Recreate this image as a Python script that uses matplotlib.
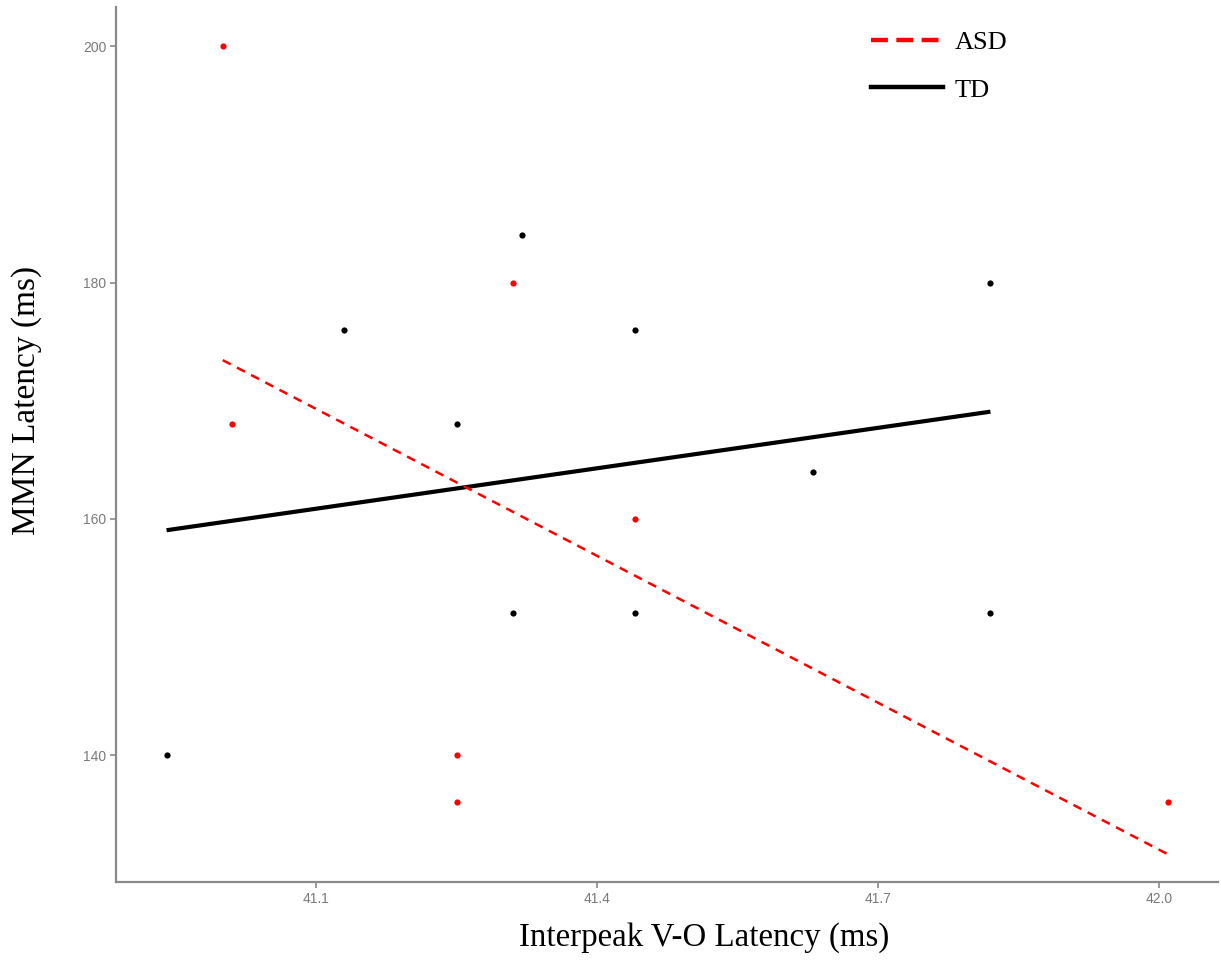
import numpy as np
import matplotlib
matplotlib.use("Agg")
import matplotlib.pyplot as plt
from matplotlib.lines import Line2D

# interpeak V-O latency (ms) and MMN latency (ms)
asd_x = [41.00, 41.01, 41.25, 41.25, 41.31, 41.44, 42.01]
asd_y = [200, 168, 140, 136, 180, 160, 136]

td_x = [40.94, 41.13, 41.25, 41.32, 41.31, 41.44, 41.44, 41.63, 41.82, 41.82]
td_y = [140, 176, 168, 184, 152, 176, 152, 164, 180, 152]

x_ticks = [41.1, 41.4, 41.7, 42.0]
y_ticks = [140, 160, 180, 200]

AXIS_GREY = "#8a8a8a"
SERIF = ["Liberation Serif", "DejaVu Serif"]


def fit_line(x, y):
    x = np.asarray(x, dtype=float)
    y = np.asarray(y, dtype=float)
    slope, icpt = np.polyfit(x, y, 1)
    xs = np.array([x.min(), x.max()])
    return xs, icpt + slope * xs


fig = plt.figure(figsize=(12.21, 9.61), dpi=100)
ax = fig.add_axes([0.095, 0.082, 0.9025, 0.911])

ax.scatter(td_x, td_y, s=20, color="black", zorder=3, linewidths=0)
ax.scatter(asd_x, asd_y, s=20, color="#ff0000", zorder=3, linewidths=0)

xs, ys = fit_line(td_x, td_y)
ax.plot(xs, ys, color="black", lw=3.0, solid_capstyle="butt", zorder=2)
xs, ys = fit_line(asd_x, asd_y)
ax.plot(xs, ys, color="#ff0000", lw=1.8, dashes=(3.6, 2.8), zorder=2)

ax.set_xlim(40.886, 42.063)
ax.set_ylim(129.24, 203.36)
ax.set_xticks(x_ticks)
ax.set_xticklabels([f"{v:.1f}" for v in x_ticks])
ax.set_yticks(y_ticks)

for side in ("top", "right"):
    ax.spines[side].set_visible(False)
for side in ("left", "bottom"):
    ax.spines[side].set_color(AXIS_GREY)
    ax.spines[side].set_linewidth(1.6)

ax.tick_params(axis="both", colors=AXIS_GREY, length=4, width=1.2,
               labelsize=10, pad=3)
for lab in ax.get_xticklabels() + ax.get_yticklabels():
    lab.set_fontfamily(["Liberation Sans", "DejaVu Sans"])
    lab.set_color("#7a7a7a")

ax.set_xlabel("Interpeak V-O Latency (ms)", fontsize=23.7, family=SERIF)
ax.set_ylabel("MMN Latency (ms)", fontsize=24, family=SERIF)
ax.xaxis.set_label_coords(0.534, -0.046)
ax.yaxis.set_label_coords(-0.067, 0.55)

handles = [
    Line2D([], [], color="#ff0000", lw=3.2, dashes=(3.8, 1.9)),
    Line2D([], [], color="black", lw=3.2),
]
ax.legend(handles, ["ASD", "TD"], loc="upper left",
          bbox_to_anchor=(0.664, 0.9996), frameon=False, handlelength=2.7,
          handletextpad=0.45, labelspacing=0.9,
          prop={"family": SERIF, "size": 19})

fig.savefig("out.png", dpi=100)
plt.close(fig)
